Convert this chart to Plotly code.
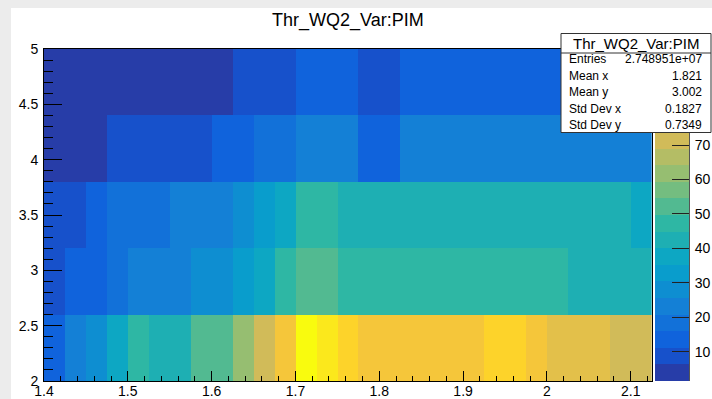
import plotly.graph_objects as go

# ---- histogram binning ----
x_edges = [round(1.4 + 0.025 * i, 3) for i in range(30)]   # 29 bins, 1.400 .. 2.125
y_edges = [2.0, 2.6, 3.2, 3.8, 4.4, 5.0]                    # 5 bins

# ---- bin contents, one list per y bin (bottom to top) ----
row_2p0 = [13.9, 23.5, 27.8, 37.9, 46.8, 42.3, 43.1, 51.6, 52.8, 61.4,
           71.2, 80.6, 97.9, 90.4, 85.6, 81.3, 81.9, 82.2, 81.5, 80.8,
           81.7, 86.3, 85.9, 81.2, 76.4, 75.8, 76.9, 71.9, 70.6]
row_2p6 = [9.2, 13.4, 14.1, 17.6, 22.9, 23.8, 24.1, 27.3, 28.6, 33.2,
           38.4, 47.9, 53.1, 52.4, 47.2, 47.8, 48.3, 48.1, 47.6, 47.9,
           47.4, 47.0, 46.8, 46.5, 45.9, 43.8, 43.1, 42.6, 41.9]
row_3p2 = [7.4, 10.2, 14.6, 18.1, 19.0, 19.6, 22.4, 23.3, 24.7, 28.9,
           33.9, 38.8, 46.1, 45.6, 44.2, 44.5, 44.1, 43.9, 44.0, 43.7,
           43.5, 43.6, 43.2, 43.0, 42.8, 42.4, 41.9, 41.2, 39.1]
row_3p8 = [3.1, 4.2, 5.0, 7.8, 8.9, 9.6, 10.3, 10.8, 12.5, 14.7,
           17.2, 19.4, 21.6, 22.0, 21.3, 15.2, 15.6, 21.1, 22.3, 23.0,
           23.4, 23.9, 24.1, 24.5, 24.2, 23.8, 23.1, 22.6, 21.9]
row_4p4 = [1.5, 1.9, 2.3, 2.8, 3.2, 3.6, 4.1, 4.7, 5.6, 7.1,
           8.4, 9.8, 11.6, 12.3, 12.8, 10.4, 10.9, 12.1, 12.9, 13.5,
           14.0, 14.2, 14.6, 14.9, 15.1, 14.8, 14.3, 13.7, 13.2]
z_rows = [row_2p0, row_2p6, row_3p2, row_3p8, row_4p4]

# ---- statistics box ----
stats_title = "Thr_WQ2_Var:PIM"
stats_names = ["Entries", "Mean x", "Mean y", "Std Dev x", "Std Dev y"]
stats_values = ["2.748951e+07", "1.821", "3.002", "0.1827", "0.7349"]

x_ticks = [1.4, 1.5, 1.6, 1.7, 1.8, 1.9, 2.0, 2.1]
y_ticks = [2, 2.5, 3, 3.5, 4, 4.5, 5]
z_ticks = [10, 20, 30, 40, 50, 60, 70]   # upper labels sit under the stats box
n_levels = 20

zmin = min(min(r) for r in z_rows)
zmax = max(max(r) for r in z_rows)

# ---- kBird palette, sampled the way COLZ picks one colour per contour level ----
bird_stops = [0.0, 0.125, 0.25, 0.375, 0.5, 0.625, 0.75, 0.875, 1.0]
bird_r = [0.2082, 0.0592, 0.0780, 0.0232, 0.1802, 0.5301, 0.8186, 0.9956, 0.9764]
bird_g = [0.1664, 0.3599, 0.5041, 0.6419, 0.7178, 0.7492, 0.7328, 0.7862, 0.9832]
bird_b = [0.5293, 0.8684, 0.8385, 0.7914, 0.6425, 0.4662, 0.3499, 0.1968, 0.0539]


def bird(t):
    for j in range(len(bird_stops) - 1):
        if t <= bird_stops[j + 1]:
            f = (t - bird_stops[j]) / (bird_stops[j + 1] - bird_stops[j])
            break
    else:
        j, f = len(bird_stops) - 2, 1.0
    c = [a[j] + (a[j + 1] - a[j]) * f for a in (bird_r, bird_g, bird_b)]
    return "rgb(%d,%d,%d)" % tuple(round(255 * v) for v in c)


level_colors = [bird(int((k + 0.99) * 255 / n_levels) / 254) for k in range(n_levels)]
colorscale = []
for k, col in enumerate(level_colors):
    colorscale.append([k / n_levels, col])
    colorscale.append([(k + 1) / n_levels, col])

# ---- pixel helpers for the paper coordinate system ----
W, H = 712, 399
ML, MR, MT, MB = 44, 23, 49, 18
PW, PH = W - ML - MR, H - MT - MB


def px(xp):
    return (xp - ML) / PW


def py(yp):
    return (H - MB - yp) / PH


FONT = "Liberation Sans, Arial, Helvetica, sans-serif"

fig = go.Figure()

fig.add_trace(go.Heatmap(
    x=x_edges, y=y_edges, z=z_rows,
    zmin=zmin, zmax=zmax, colorscale=colorscale,
    showscale=False, xaxis="x", yaxis="y", hoverinfo="skip",
))

# palette bar drawn as a one-column histogram of the contour levels
dz = (zmax - zmin) / n_levels
bar_edges = [zmin + dz * k for k in range(n_levels + 1)]
bar_z = [[zmin + dz * (k + 0.5)] for k in range(n_levels)]
fig.add_trace(go.Heatmap(
    x=[0, 1], y=bar_edges, z=bar_z,
    zmin=zmin, zmax=zmax, colorscale=colorscale,
    showscale=False, xaxis="x2", yaxis="y2", hoverinfo="skip",
))

tick_font = dict(family=FONT, size=14, color="black")

fig.update_layout(
    width=W, height=H,
    margin=dict(l=ML, r=MR, t=MT, b=MB, autoexpand=False),
    paper_bgcolor="#ececec", plot_bgcolor="white",
    showlegend=False,
    xaxis=dict(
        domain=[0, px(651.7)], range=[x_edges[0], x_edges[-1]],
        tickvals=x_ticks, ticktext=[f"{v:g}" for v in x_ticks],
        ticks="inside", ticklen=10, tickcolor="black", tickwidth=1,
        minor=dict(dtick=0.02, tick0=1.4, ticks="inside", ticklen=5,
                   tickcolor="black", showgrid=False),
        showline=True, linecolor="black", linewidth=1, mirror=True,
        showgrid=False, zeroline=False, tickfont=tick_font,
        anchor="y", automargin=False, ticklabelstandoff=-3,
    ),
    yaxis=dict(
        domain=[0, 1], range=[y_edges[0], y_edges[-1]],
        tickvals=y_ticks, ticktext=[f"{v:g}" for v in y_ticks],
        ticks="inside", ticklen=18, tickcolor="black", tickwidth=1,
        minor=dict(dtick=0.1, tick0=2, ticks="inside", ticklen=9,
                   tickcolor="black", showgrid=False),
        showline=True, linecolor="black", linewidth=1, mirror=True,
        showgrid=False, zeroline=False, tickfont=tick_font,
        anchor="x", automargin=False, ticklabelstandoff=2,
    ),
    xaxis2=dict(
        domain=[px(655), 1], range=[0, 1], showticklabels=False,
        ticks="", showgrid=False, zeroline=False, showline=False,
        anchor="y2", automargin=False,
    ),
    yaxis2=dict(
        domain=[0, 1], range=[zmin, zmax], side="right", anchor="x2",
        tickvals=z_ticks, ticks="inside", ticklen=17, tickcolor="#222",
        tickwidth=1, showline=True, linecolor="#555", linewidth=1,
        showgrid=False, zeroline=False, tickfont=tick_font,
        automargin=False, ticklabelstandoff=2,
    ),
)

shapes = [
    # white canvas inside the grey window frame
    dict(type="rect", xref="paper", yref="paper", layer="below",
         x0=px(11), x1=px(W + 5), y0=py(H + 5), y1=py(8),
         fillcolor="white", line=dict(width=0)),
    # statistics box
    dict(type="rect", xref="paper", yref="paper", layer="above",
         x0=px(561), x1=px(711), y0=py(132.5), y1=py(33.5),
         fillcolor="white", line=dict(color="#333", width=1)),
    dict(type="line", xref="paper", yref="paper", layer="above",
         x0=px(561), x1=px(711), y0=py(53), y1=py(53),
         line=dict(color="#333", width=1)),
]
fig.update_layout(shapes=shapes)

annotations = [
    dict(text="Thr_WQ2_Var:PIM", xref="paper", yref="paper",
         x=px(348), y=py(20), xanchor="center", yanchor="middle",
         showarrow=False, font=dict(family=FONT, size=18, color="black")),
    dict(text=stats_title, xref="paper", yref="paper",
         x=px(636), y=py(43.5), xanchor="center", yanchor="middle",
         showarrow=False, borderpad=0,
         font=dict(family=FONT, size=15, color="black")),
]
row_y = [59.5, 76, 92, 108.5, 124.5]
for name, val, yy in zip(stats_names, stats_values, row_y):
    annotations.append(dict(text=name, xref="paper", yref="paper",
                            x=px(568), y=py(yy), xanchor="left", yanchor="middle",
                            showarrow=False, borderpad=0,
                            font=dict(family=FONT, size=12, color="black")))
    annotations.append(dict(text=val, xref="paper", yref="paper",
                            x=px(703), y=py(yy), xanchor="right", yanchor="middle",
                            showarrow=False, borderpad=0,
                            font=dict(family=FONT, size=12, color="black")))
fig.update_layout(annotations=annotations)

fig.write_html("out.html")
